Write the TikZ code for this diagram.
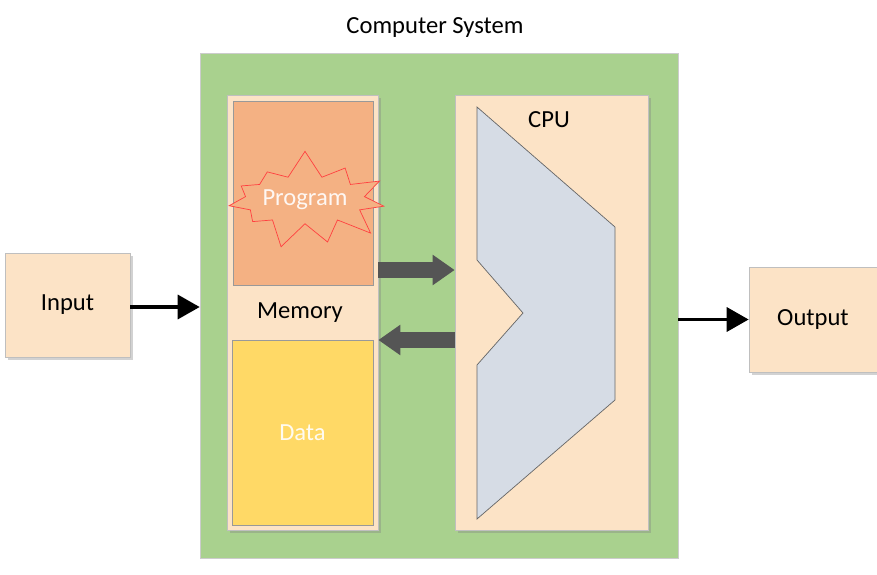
\documentclass[tikz,border=0pt]{standalone}
\usepackage{fontspec}
\setmainfont{Carlito}
\usetikzlibrary{arrows.meta,shapes.symbols,shadows}
\definecolor{sysgreen}{HTML}{A9D18E}
\definecolor{peach}{HTML}{FCE3C6}
\definecolor{progorange}{HTML}{F4B183}
\definecolor{datayellow}{HTML}{FFD966}
\definecolor{alugrey}{HTML}{D6DCE5}
\definecolor{busgrey}{HTML}{555555}

\begin{document}
\begin{tikzpicture}[x=0.02cm, y=-0.02cm,
        font=\fontsize{14}{16}\selectfont,
        box/.style={rectangle, draw=black!25, fill=peach, inner sep=0pt,
          drop shadow={opacity=0.35, shadow xshift=1.5pt, shadow yshift=-1.5pt}},
        part/.style={rectangle, draw=black!40, inner sep=0pt},
        flow/.style={line width=2pt, -{Triangle[length=0.44cm, width=0.48cm]}},
        bus/.style={busgrey, line width=0.32cm, -{Triangle[length=0.44cm, width=0.58cm]}}]
        \useasboundingbox[fill=white] (0,0) rectangle (877,575);

        % computer system
        \node[rectangle, draw=black!20, fill=sysgreen, minimum width=9.56cm, minimum height=10.1cm] (sys) at (439,305.5) {};
        \node (title) at (435,27) {Computer System};

        % memory
        \node[box, minimum width=3.02cm, minimum height=8.7cm] (mem) at (302.5,312.5) {};
        \node[part, fill=progorange, minimum width=2.8cm, minimum height=3.68cm] (prog) at (303,193) {};
        \node[starburst, draw=red!75, fill=progorange, text=white!90!progorange, minimum width=2.8cm, minimum height=2.05cm,
          starburst points=11, starburst point height=0.55cm, random starburst=7, inner sep=0pt] (burst) at (305,200) {Program};
        \node (memlabel) at (300,313) {Memory};
        \node[part, fill=datayellow, minimum width=2.82cm, minimum height=3.7cm, text=white!90!datayellow] (data) at (302.5,432.5) {Data};

        % cpu
        \node[box, minimum width=3.86cm, minimum height=8.7cm] (cpu) at (551.5,312.5) {};
        \node (cpulabel) at (549,120) {CPU};
        \draw[black!60, fill=alugrey] (477,107) -- (615,227) -- (615,400) -- (477,519)
          -- (477,365) -- (523,313) -- (477,260) -- cycle;

        % buses
        \draw[bus] (mem.east |- 0,270) -- (cpu.west |- 0,270);
        \draw[bus] (cpu.west |- 0,340) -- (mem.east |- 0,340);

        % input and output
        \node[box, minimum width=2.5cm, minimum height=2.08cm] (input) at (67.5,305) {Input};
        \node[box, minimum width=2.56cm, minimum height=2.1cm] (output) at (813,319.5) {Output};
        \draw[flow] (input.east |- 0,307) -- (sys.west |- 0,307);
        \draw[flow] (sys.east |- output.west) -- (output.west);
\end{tikzpicture}
\end{document}
